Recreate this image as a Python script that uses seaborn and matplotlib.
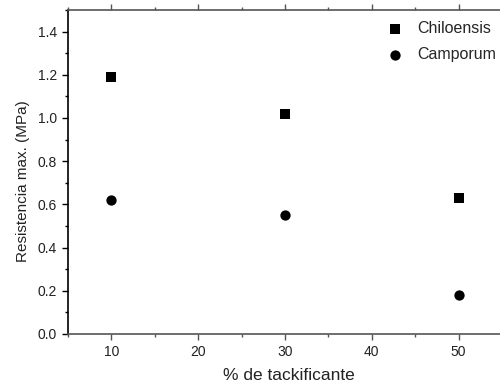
import matplotlib
matplotlib.use("Agg")
import matplotlib.pyplot as plt
import numpy as np
import pandas as pd
import seaborn as sns
from matplotlib.ticker import MultipleLocator, FormatStrFormatter

# data
tackificante = [10, 30, 50]
chiloensis = [1.19, 1.02, 0.63]
camporum = [0.62, 0.55, 0.18]

sns.set_style("white")
plt.rcParams["font.family"] = ["Liberation Sans", "DejaVu Sans"]

fig = plt.figure(figsize=(5, 3.83), dpi=100)
ax = fig.add_axes([0.136, 0.128, 0.868, 0.846])

sns.scatterplot(x=tackificante, y=chiloensis, marker="s", color="black",
                s=42, linewidth=0, label="Chiloensis", ax=ax)
sns.scatterplot(x=tackificante, y=camporum, marker="o", color="black",
                s=55, linewidth=0, label="Camporum", ax=ax)

ax.set_xlim(5, 55)
ax.set_ylim(0, 1.5)
ax.xaxis.set_major_locator(MultipleLocator(10))
ax.xaxis.set_minor_locator(MultipleLocator(5))
ax.yaxis.set_minor_locator(MultipleLocator(0.1))
ax.set_yticks(np.arange(0, 1.41, 0.2))
ax.yaxis.set_major_formatter(FormatStrFormatter("%.1f"))

ax.tick_params(axis="both", which="major", direction="out", length=4.5, width=1,
               labelsize=10, labelcolor="#222222")
ax.tick_params(axis="both", which="minor", direction="out", length=2.5, width=1)
ax.tick_params(axis="x", which="both", top=True, labeltop=False, bottom=True,
               color="#555555")
ax.tick_params(axis="y", which="both", left=True, color="black")

for side in ["bottom", "top"]:
    ax.spines[side].set_color("#555555")
    ax.spines[side].set_linewidth(1.2)
ax.spines["left"].set_color("black")
ax.spines["left"].set_linewidth(1.2)
ax.spines["right"].set_visible(False)

ax.set_xlabel("% de tackificante", fontsize=12.5, color="#222222")
ax.set_ylabel("Resistencia max. (MPa)", fontsize=11, color="#222222")
ax.xaxis.set_label_coords(0.509, -0.105)
ax.yaxis.set_label_coords(-0.088, 0.472)

ax.legend(loc="upper left", bbox_to_anchor=(0.684, 1.009), frameon=False,
          fontsize=11.5, handletextpad=0.4, labelspacing=0.65)

fig.savefig("out.png", dpi=100)
